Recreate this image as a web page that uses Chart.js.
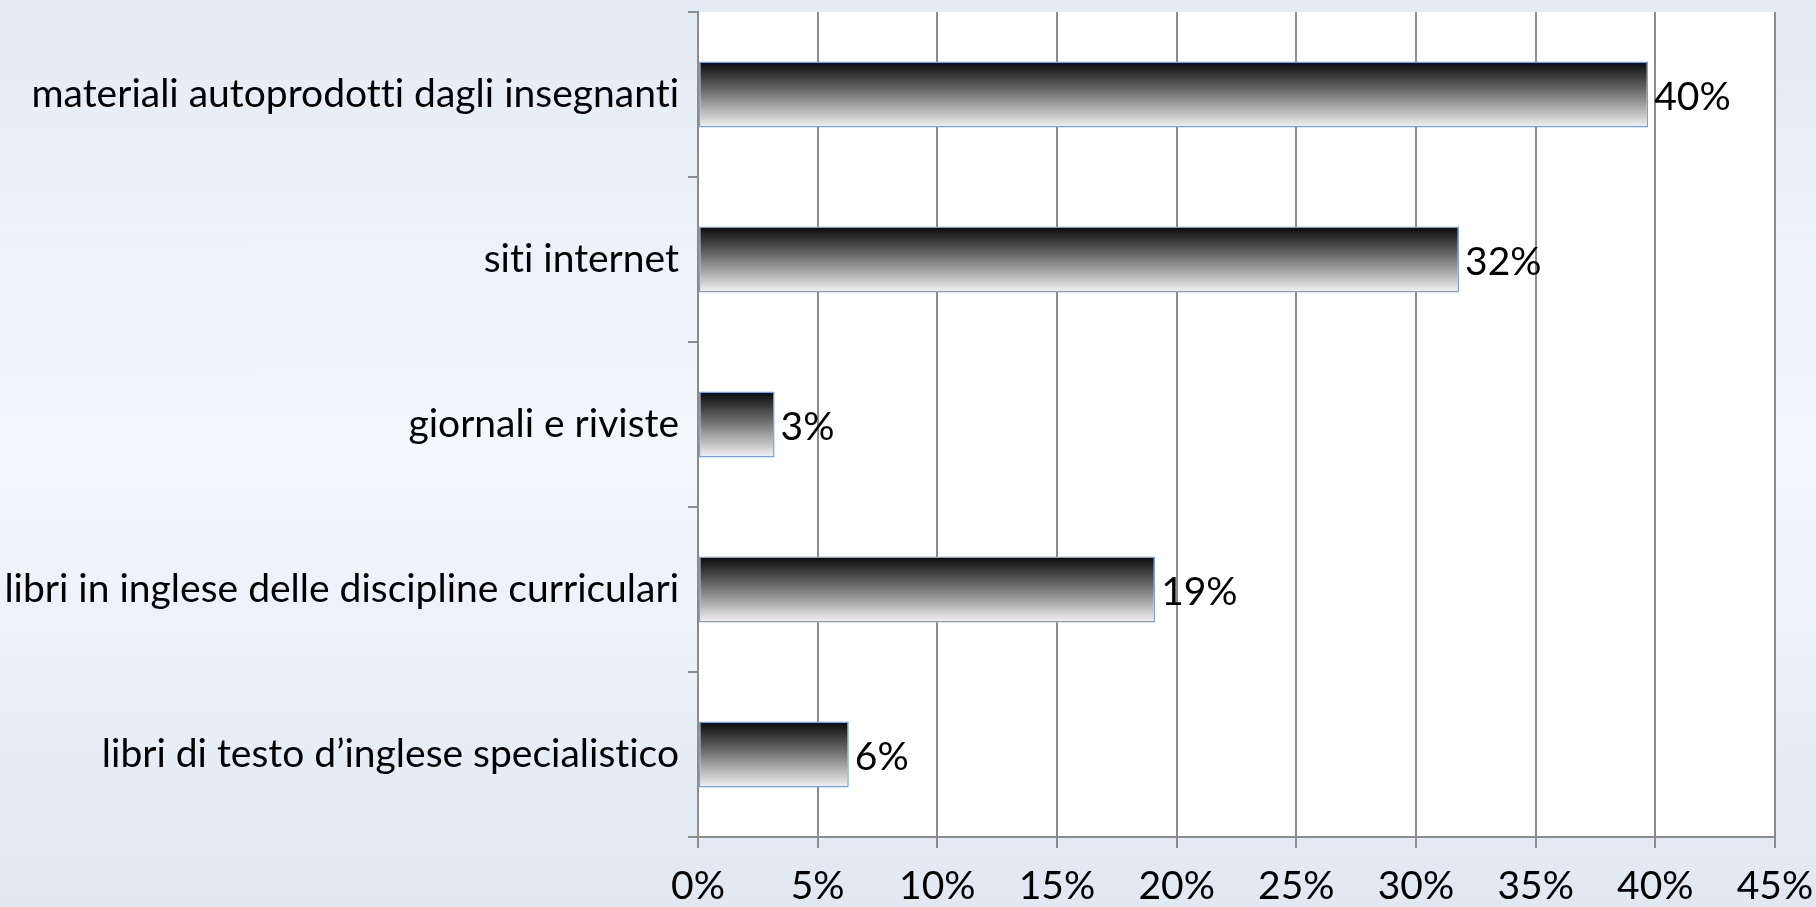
<!DOCTYPE html>
<html>
<head>
<meta charset="utf-8">
<script src="https://cdn.jsdelivr.net/npm/chart.js@4/dist/chart.umd.min.js"></script>
<style>
  html, body { margin: 0; padding: 0; }
  body {
    width: 1816px; height: 907px; overflow: hidden;
    background: linear-gradient(to bottom, #e5ebf4 0%, #f4f7fb 50%, #e1e8f2 100%);
  }
  #wrap { position: relative; width: 1816px; height: 907px; }
</style>
</head>
<body>
<div id="wrap"><canvas id="chart"></canvas></div>
<script>
// categories top to bottom, as in the picture
const categories = [
  "materiali autoprodotti dagli insegnanti",
  "siti internet",
  "giornali e riviste",
  "libri in inglese delle discipline curriculari",
  "libri di testo d\u2019inglese specialistico"
]
const values = [39.7, 31.8, 3.2, 19.1, 6.3]   // percent
const valueLabels = ["40%", "32%", "3%", "19%", "6%"]
const xTicks = [0, 5, 10, 15, 20, 25, 30, 35, 40, 45]

const FONT = { family: "Lato, 'Liberation Sans', sans-serif", size: 39 }
const GRID = "#8c8c8c"

// gradient black -> white across each bar's height
const barFill = (c) => {
  const { ctx, chartArea, scales } = c.chart
  if (!chartArea || c.dataIndex === undefined) return "#777"
  const y = scales.y.getPixelForValue(c.dataIndex)
  const h = (chartArea.bottom - chartArea.top) / categories.length * 0.4
  const g = ctx.createLinearGradient(0, y - h / 2, 0, y + h / 2)
  g.addColorStop(0, "#080808")
  g.addColorStop(0.45, "#6e6e6e")
  g.addColorStop(1, "#f4f4f4")
  return g
}

const plotBg = {
  id: "plotBg",
  beforeDraw(chart) {
    const { ctx, chartArea: a } = chart
    ctx.textRendering = "optimizeSpeed"  // no "ti" ligatures in Lato
    ctx.save()
    ctx.fillStyle = "#ffffff"
    ctx.fillRect(a.left, a.top, a.right - a.left, a.bottom - a.top)
    ctx.restore()
  }
}

const barLabels = {
  id: "barLabels",
  afterDatasetsDraw(chart) {
    const { ctx } = chart
    const meta = chart.getDatasetMeta(0)
    ctx.save()
    ctx.font = FONT.size + "px " + FONT.family
    ctx.fillStyle = "#000"
    ctx.textAlign = "left"
    ctx.textBaseline = "middle"
    meta.data.forEach((bar, i) => {
      ctx.fillText(valueLabels[i], bar.x + 6, bar.y + 3)
    })
    ctx.restore()
  }
}

Chart.defaults.font.family = FONT.family
Chart.defaults.font.size = FONT.size
Chart.defaults.color = "#000"

new Chart(document.getElementById("chart"), {
  type: "bar",
  data: {
    labels: categories,
    datasets: [{
      data: values,
      backgroundColor: barFill,
      borderColor: "#7f9fd3",
      borderWidth: 1.5,
      borderSkipped: false,
      barPercentage: 0.4,
      categoryPercentage: 1
    }]
  },
  options: {
    indexAxis: "y",
    responsive: true,
    maintainAspectRatio: false,
    animation: false,
    layout: { padding: { top: 12, right: 41, bottom: 0, left: 0 } },
    plugins: { legend: { display: false }, tooltip: { enabled: false } },
    scales: {
      x: {
        min: 0, max: 45,
        afterBuildTicks: (s) => { s.ticks = xTicks.map(v => ({ value: v })) },
        afterFit: (s) => { s.height = 70; s.paddingLeft = 0; s.paddingRight = 0 },
        ticks: { callback: v => v + "%", padding: 15, maxRotation: 0, autoSkip: false },
        grid: { color: GRID, lineWidth: 2, tickLength: 11 },
        border: { color: GRID, width: 2 }
      },
      y: {
        afterFit: (s) => { s.width = 698; s.paddingTop = 0; s.paddingBottom = 0 },
        ticks: { padding: 9, autoSkip: false },
        grid: { drawOnChartArea: false, color: GRID, lineWidth: 2, tickLength: 10, offset: true },
        border: { color: GRID, width: 2 }
      }
    }
  },
  plugins: [plotBg, barLabels]
})
</script>
</body>
</html>
